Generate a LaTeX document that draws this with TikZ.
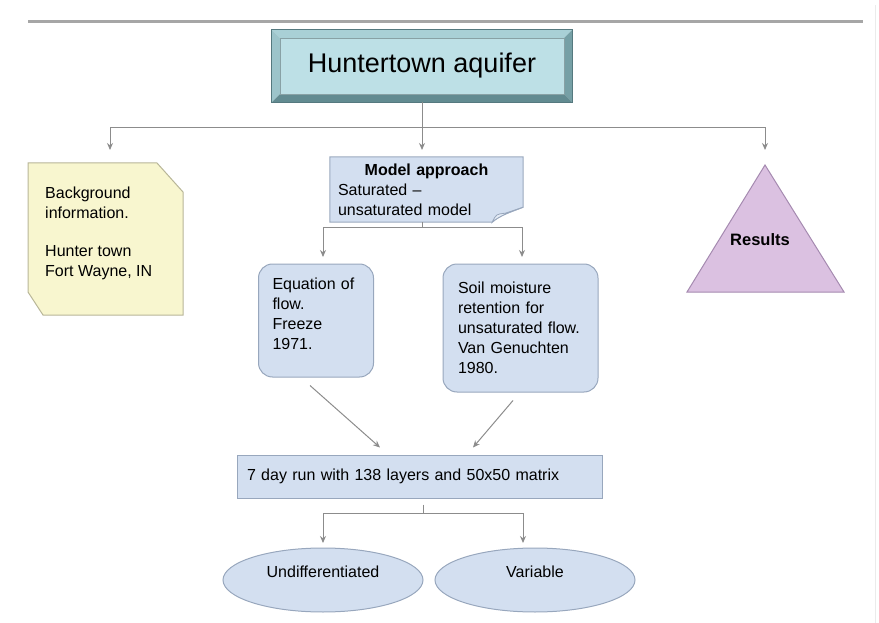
\documentclass[tikz,border=0pt]{standalone}
\usepackage{fontspec}
\setmainfont{Liberation Sans}
\usepackage{xcolor}
\usepackage{tikz}
\usetikzlibrary{arrows.meta,shapes.geometric}
\definecolor{aquaface}{HTML}{BDE0E6}
\definecolor{beveltop}{HTML}{A9D0D6}
\definecolor{bevelleft}{HTML}{9CC4CA}
\definecolor{bevelright}{HTML}{76A0A6}
\definecolor{bevelbottom}{HTML}{628B91}
\definecolor{bevelline}{HTML}{55797F}
\definecolor{boxblue}{HTML}{D3DFF0}
\definecolor{boxline}{HTML}{98A7BD}
\definecolor{notepad}{HTML}{F8F6CF}
\definecolor{notepadline}{HTML}{B8B698}
\definecolor{lilac}{HTML}{DBC1E1}
\definecolor{lilacline}{HTML}{A58AB0}
\definecolor{arrgray}{HTML}{8C8C8C}

\begin{document}
\begin{tikzpicture}[x=1pt,y=-1pt,
	txt/.style={font=\fontsize{16}{20}\selectfont, align=left},
	arr/.style={draw=arrgray, line width=1pt, -{Stealth[length=7pt,width=6pt]}},
	lnk/.style={draw=arrgray, line width=1pt},
	bluebox/.style={txt, draw=boxline, fill=boxblue, line width=1pt}]
			\useasboundingbox (0,0) rectangle (879,623);
			\draw[line width=3pt, color=black!35] (28,22) -- (863,22);
			\draw[color=black!8, line width=1pt] (875,5) -- (875,623);

			\node[fill=aquaface, minimum width=284pt, minimum height=56pt, inner sep=0pt,
				font=\fontsize{27}{30}\selectfont] (aq) at (422,66) {Huntertown aquifer};
			\fill[beveltop] ([shift={(-8,-8)}]aq.north west) -- ([shift={(8,-8)}]aq.north east) -- (aq.north east) -- (aq.north west) -- cycle;
			\fill[bevelleft] ([shift={(-8,-8)}]aq.north west) -- (aq.north west) -- (aq.south west) -- ([shift={(-8,8)}]aq.south west) -- cycle;
			\fill[bevelright] ([shift={(8,-8)}]aq.north east) -- ([shift={(8,8)}]aq.south east) -- (aq.south east) -- (aq.north east) -- cycle;
			\fill[bevelbottom] ([shift={(-8,8)}]aq.south west) -- (aq.south west) -- (aq.south east) -- ([shift={(8,8)}]aq.south east) -- cycle;
			\draw[bevelline, line width=0.8pt] ([shift={(-8,-8)}]aq.north west) rectangle ([shift={(8,8)}]aq.south east);
			\draw[bevelline!70, line width=0.5pt] (aq.north west) rectangle (aq.south east);

			\filldraw[fill=notepad, draw=notepadline, line width=1pt] (28,163) -- (157,163) -- (183,192) -- (183,315) -- (43,315) -- (28,292) -- cycle;
			\node[txt, anchor=north west, inner sep=0pt] (bg) at (45,187)
				{Background\\information.\\[18pt]Hunter town\\Fort Wayne, IN};

			\node[txt, fill=boxblue, minimum width=193pt, minimum height=65pt, text width=177pt, inner xsep=8pt, inner ysep=0pt] (model) at (426.5,189.5)
				{\makebox[177pt][c]{\textbf{Model approach}}\\Saturated --\\unsaturated model};
			\fill[white] ([shift={(0,-15)}]model.south east) .. controls ([shift={(-13,-10)}]model.south east) and ([shift={(-23,-7)}]model.south east) .. ([shift={(-31,0)}]model.south east) -- ([shift={(1,1)}]model.south east) -- cycle;
			\draw[boxline, line width=1pt] (model.south west) -- (model.north west) -- (model.north east) -- ([shift={(0,-15)}]model.south east)
				.. controls ([shift={(-13,-10)}]model.south east) and ([shift={(-23,-7)}]model.south east) .. ([shift={(-31,0)}]model.south east) -- cycle;
			\filldraw[fill=boxblue!60, draw=boxline, line width=0.8pt] ([shift={(-31,0)}]model.south east) .. controls ([shift={(-27,-8)}]model.south east) .. ([shift={(-18,-9)}]model.south east) -- ([shift={(0,-15)}]model.south east) .. controls ([shift={(-13,-10)}]model.south east) and ([shift={(-23,-7)}]model.south east) .. cycle;

			\fill[lilac] (765,165) -- (844,292) -- (687,292) -- cycle;
			\draw[lilacline, line width=1pt] (765,165) -- (844,292) -- (687,292) -- cycle;
			\node[txt, font=\fontsize{16.5}{20}\selectfont\bfseries] (res) at (760,240) {Results};

			\node[bluebox, rounded corners=14pt, minimum width=115pt, minimum height=113pt, text width=87pt, inner xsep=14pt] (eq) at (316,320.5)
				{Equation of\\flow.\\Freeze\\1971.\\[-12pt]\strut};
			\node[bluebox, rounded corners=14pt, minimum width=155pt, minimum height=128pt, text width=125pt, inner xsep=15pt] (soil) at (520.5,328)
				{Soil moisture\\retention for\\unsaturated flow.\\Van Genuchten\\1980.};
			\node[bluebox, minimum width=365pt, minimum height=43pt, text width=345pt, inner xsep=10pt] (run) at (419.5,476.5)
				{7 day run with 138 layers and 50x50 matrix};
			\node[bluebox, ellipse, minimum width=200pt, minimum height=64pt, text depth=17pt] (undiff) at (323,580) {Undifferentiated};
			\node[bluebox, ellipse, minimum width=200pt, minimum height=64pt, text depth=17pt] (variable) at (535,580) {Variable};

			\coordinate (split) at (422,128);
			\coordinate (bgin) at (110,150);
			\coordinate (modin) at (422,150);
			\coordinate (resin) at (765,150);
			\draw[lnk] ([yshift=-8pt]aq.south) -- (split);
			\draw[arr] (split) -| (bgin);
			\draw[arr] (split) -- (modin);
			\draw[arr] (split) -| (resin);

			\coordinate (msplit) at (422,228);
			\coordinate (eqin) at (323,257);
			\coordinate (soilin) at (522,257);
			\draw[lnk] (msplit |- model.south) -- (msplit);
			\draw[arr] (msplit) -| (eqin);
			\draw[arr] (msplit) -| (soilin);

			\draw[arr] ([shift={(-6,8)}]eq.south) -- ([shift={(-39.5,-7)}]run.north);
			\draw[arr] ([shift={(-7.5,8)}]soil.south) -- ([shift={(53.5,-7)}]run.north);

			\coordinate (rsplit) at (423,513);
			\coordinate (undin) at (323,543);
			\coordinate (varin) at (523,543);
			\draw[lnk] ([yshift=-6pt]rsplit |- run.south) -- (rsplit);
			\draw[arr] (rsplit) -| (undin);
			\draw[arr] (rsplit) -| (varin);
		\end{tikzpicture}
\end{document}
